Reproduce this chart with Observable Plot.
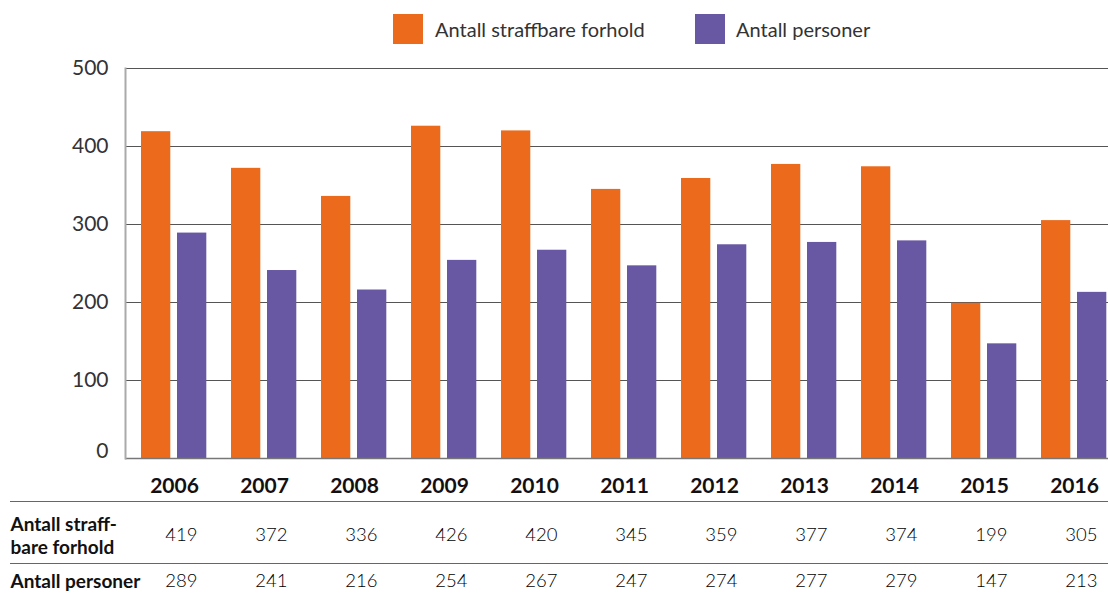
<!DOCTYPE html>
<html><head><meta charset="utf-8">
<script src="https://cdn.jsdelivr.net/npm/d3@7"></script>
<script src="https://cdn.jsdelivr.net/npm/@observablehq/plot@0.6"></script>
<style>
body{margin:0;background:#fff;font-family:Lato,"Open Sans",sans-serif;}
#legend{position:relative;height:48px;width:1108px;}
.sw{position:absolute;top:14px;width:30px;height:30px;}
.lt{position:absolute;top:14px;line-height:30px;font-size:20px;color:#333;white-space:nowrap;}
#chart svg{display:block;}
</style></head><body>
<div id="legend"></div>
<div id="chart"></div>
<script>
const years = ["2006","2007","2008","2009","2010","2011","2012","2013","2014","2015","2016"];
const forhold = [419,372,336,426,420,345,359,377,374,199,305];
const personer = [289,241,216,254,267,247,274,277,279,147,213];
const seriesNames = ["Antall straffbare forhold","Antall personer"];
const rowLabels = ["Antall straff-\nbare forhold","Antall personer"];
const yTicks = [0,100,200,300,400,500];
const colors = ["#EC6A1C","#6857A3"];

const rows = years.map((y,i)=>({year:y, forhold:forhold[i], personer:personer[i]}));

// legend
const lg = document.getElementById("legend");
const swLeft = [393,695], txLeft = [435,736];
seriesNames.forEach((n,i)=>{
  const s=document.createElement("div"); s.className="sw"; s.style.left=swLeft[i]+"px"; s.style.background=colors[i]; lg.appendChild(s);
  const t=document.createElement("div"); t.className="lt"; t.style.left=txLeft[i]+"px"; t.textContent=n; lg.appendChild(t);
});

const chart = Plot.plot({
  width:1108, height:546, marginTop:20, marginBottom:136, marginLeft:125, marginRight:0,
  style:{fontFamily:"Lato, 'Open Sans', sans-serif", background:"#fff", overflow:"hidden"},
  x:{domain:years, range:[125,1122.7], padding:0, axis:null},
  y:{domain:[0,500], axis:null},
  marks:[
    Plot.ruleY(yTicks.filter(d=>d>0), {stroke:"#555", strokeWidth:1.2}),
    Plot.barY(rows, {x:"year", y:"forhold", fill:colors[0], insetLeft:12, insetRight:48.7}),
    Plot.barY(rows, {x:"year", y:"personer", fill:colors[1], insetLeft:48, insetRight:12.7}),
    Plot.ruleY([0], {stroke:"#777", strokeWidth:1.5}),
    Plot.frame({anchor:"left", stroke:"#aaa", strokeWidth:2}),
    Plot.text(yTicks.filter(d=>d>0), {y:d=>d, frameAnchor:"left", dx:-17, textAnchor:"end", fontSize:21, fill:"#333"}),
    Plot.text([0], {y:d=>d, frameAnchor:"left", dx:-17, dy:-7, textAnchor:"end", fontSize:21, fill:"#333"}),
    Plot.text(years, {x:d=>d, y:0, dy:28, fontSize:21, fontWeight:"bold", fill:"#111"}),
    Plot.ruleY([0], {dy:43, insetLeft:-115, stroke:"#666", strokeWidth:1.2}),
    Plot.ruleY([0], {dy:105, insetLeft:-115, stroke:"#666", strokeWidth:1.2}),
    Plot.text([rowLabels[0]], {y:0, dy:77, frameAnchor:"left", dx:-115, textAnchor:"start", fontSize:19, fontWeight:"bold", fill:"#111", lineHeight:1.2}),
    Plot.text([rowLabels[1]], {y:0, dy:123, frameAnchor:"left", dx:-115, textAnchor:"start", fontSize:19, fontWeight:"bold", fill:"#111"}),
    Plot.text(rows, {x:"year", y:0, text:d=>String(d.forhold), dy:77, dx:23, textAnchor:"end", fontSize:18.5, fontWeight:300, fill:"#000"}),
    Plot.text(rows, {x:"year", y:0, text:d=>String(d.personer), dy:123, dx:23, textAnchor:"end", fontSize:18.5, fontWeight:300, fill:"#000"})
  ]
});
document.getElementById("chart").appendChild(chart);
</script>
</body></html>
